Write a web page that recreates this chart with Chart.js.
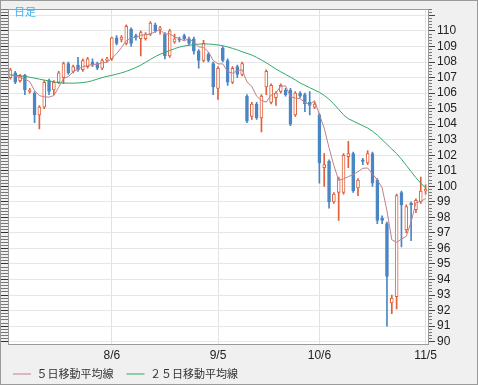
<!DOCTYPE html>
<html>
<head>
<meta charset="utf-8">
<script src="https://cdn.jsdelivr.net/npm/chart.js@4/dist/chart.umd.min.js"></script>
<style>
  html, body { margin: 0; padding: 0; background: #f0f0f0; }
  #wrap { width: 478px; height: 385px; }
</style>
</head>
<body>
<div id="wrap"><canvas id="chart" width="478" height="385"></canvas></div>
<script>
const dates = [
  "7/8","7/9","7/10","7/11","7/14","7/15","7/16","7/17","7/18","7/21",
  "7/22","7/23","7/24","7/25","7/28","7/29","7/30","7/31","8/1","8/4",
  "8/5","8/6","8/7","8/8","8/11","8/12","8/13","8/14","8/15","8/18",
  "8/19","8/20","8/21","8/22","8/25","8/26","8/27","8/28","8/29","9/1",
  "9/2","9/3","9/4","9/5","9/8","9/9","9/10","9/11","9/12","9/15",
  "9/16","9/17","9/18","9/19","9/22","9/23","9/24","9/25","9/26","9/29",
  "9/30","10/1","10/2","10/3","10/6","10/7","10/8","10/9","10/10","10/13",
  "10/14","10/15","10/16","10/17","10/20","10/21","10/22","10/23","10/24","10/27",
  "10/28","10/29","10/30","10/31","11/3","11/4","11/5"
];
const tickDates = ["8/6", "9/5", "10/6", "11/5"];

const opens = [
  107.0,107.3,106.8,107.15,106.1,106.0,104.6,105.1,106.8,106.2,
  106.7,107.0,107.9,107.4,107.8,107.5,107.7,108.0,107.9,107.6,
  108.1,108.2,109.55,109.45,109.2,110.1,109.7,109.5,109.5,109.8,
  110.4,110.1,109.8,108.4,109.3,109.5,109.7,109.5,109.5,108.7,
  108.1,108.5,107.9,106.3,108.9,108.1,106.7,107.7,107.2,105.8,
  104.5,105.3,104.4,106.4,105.4,105.7,106.1,106.2,106.2,104.6,
  106.0,105.9,105.4,105.1,104.6,101.2,101.6,99.0,99.6,99.6,
  101.9,102.1,99.9,101.7,101.5,102.1,100.4,97.95,97.6,92.5,
  92.9,99.6,97.2,98.9,98.5,99.0,99.7
];
const highs = [
  107.6,107.4,107.2,107.2,106.3,106.1,105.2,106.8,106.9,106.8,
  107.4,108.0,108.0,107.8,108.3,108.2,108.3,108.2,108.0,108.2,
  108.3,109.6,109.7,109.7,110.4,110.2,109.8,110.0,109.9,110.6,
  110.5,110.3,109.9,110.1,109.8,109.6,109.8,109.6,109.6,108.8,
  109.4,108.6,108.0,107.7,109.0,108.2,107.7,107.8,108.0,105.9,
  105.4,105.4,105.9,107.5,106.6,106.1,106.6,106.3,106.3,106.1,
  106.1,106.0,106.1,105.4,104.7,102.1,101.7,99.6,100.6,102.1,
  102.9,102.2,100.5,101.8,102.3,102.2,100.5,98.1,97.7,93.0,
  99.5,99.7,98.8,99.0,99.2,100.6,100.1
];
const lows = [
  106.9,106.6,106.7,105.9,106.0,104.1,103.7,105.0,105.9,105.9,
  106.6,106.6,107.2,107.3,107.4,107.4,107.6,107.7,107.5,107.5,
  108.0,108.1,109.1,109.3,109.1,109.0,109.4,108.4,109.4,109.7,
  109.9,109.8,108.2,108.3,109.2,109.3,109.4,109.1,108.5,107.6,
  108.0,108.0,105.9,105.6,108.0,106.5,106.6,107.0,107.1,104.1,
  104.3,104.3,103.5,105.9,105.3,105.2,106.0,105.8,103.9,104.5,
  105.7,104.8,104.6,105.0,100.2,100.0,98.6,98.9,97.8,99.5,
  101.2,99.6,99.4,101.4,101.4,100.0,97.6,97.6,91.0,91.8,
  92.1,96.1,97.0,96.5,98.3,98.9,99.5
];
const closes = [
  107.5,106.7,107.1,106.2,106.2,104.6,105.1,106.7,106.1,106.7,
  107.3,107.9,107.3,107.7,107.5,108.1,108.2,107.8,107.6,108.1,
  108.2,109.55,109.2,109.6,110.3,109.2,109.6,109.9,109.8,110.5,
  110.0,110.2,108.4,110.0,109.5,109.4,109.5,109.2,108.7,108.1,
  109.2,108.1,106.4,107.6,108.1,106.7,107.6,107.2,107.9,104.2,
  105.3,104.4,105.8,107.4,106.5,106.0,106.5,105.9,104.0,106.0,
  105.8,105.3,105.2,105.3,101.5,101.4,99.0,99.5,100.5,102.0,
  102.1,99.7,100.4,101.6,102.1,100.2,97.8,97.8,94.2,92.8,
  99.4,98.8,98.7,98.8,99.1,99.7,99.8
];
const ma5 = [
  107.2,107.1,107.0,106.9,106.74,106.16,105.84,105.76,105.74,105.84,
  106.38,106.94,107.06,107.38,107.54,107.70,107.76,107.86,107.84,107.96,
  107.98,108.25,108.53,108.93,109.37,109.57,109.58,109.72,109.76,109.80,
  109.96,110.08,109.78,109.82,109.62,109.50,109.36,109.52,109.26,108.98,
  108.94,108.66,108.10,107.88,107.88,107.38,107.28,107.44,107.50,106.72,
  106.44,105.80,105.52,105.42,105.88,106.02,106.44,106.46,105.78,105.68,
  105.64,105.40,105.26,105.52,104.62,103.74,102.48,101.34,100.38,100.48,
  100.62,100.76,100.94,101.16,101.18,100.80,100.42,99.90,98.42,96.56,
  96.40,96.60,96.78,97.70,98.96,99.02,99.22
];
const ma25 = [
  107.15,107.15,107.12,107.08,107.02,106.96,106.9,106.84,106.78,106.72,
  106.67,106.65,106.64,106.64,106.65,106.68,106.72,106.8,106.9,107.0,
  107.08,107.14,107.22,107.3,107.4,107.52,107.65,107.8,107.98,108.17,
  108.35,108.5,108.62,108.74,108.86,108.96,109.03,109.08,109.12,109.15,
  109.17,109.16,109.13,109.1,109.05,108.97,108.88,108.78,108.66,108.56,
  108.45,108.3,108.13,107.95,107.75,107.55,107.37,107.2,107.03,106.85,
  106.65,106.5,106.35,106.2,106.05,105.85,105.6,105.3,104.95,104.6,
  104.35,104.2,104.05,103.9,103.75,103.55,103.3,103.0,102.7,102.4,
  102.1,101.75,101.35,100.95,100.55,100.2,99.9
];

const upColor = "#e0603a";
const downColor = "#4a86c5";
const yMin = 89.85;
const yMax = 111.4;

const isUp = opens.map((o, i) => closes[i] >= o);
const bodies = opens.map((o, i) => [Math.min(o, closes[i]), Math.max(o, closes[i])]);
const wicks = lows.map((l, i) => [l, highs[i]]);

const framePlugin = {
  id: "frame",
  beforeDraw(chart) {
    const { ctx, chartArea: a, width, height } = chart;
    ctx.save();
    ctx.fillStyle = "#f0f0f0";
    ctx.fillRect(0, 0, width, height);
    ctx.fillStyle = "#ffffff";
    ctx.fillRect(a.left, a.top, a.right - a.left, a.bottom - a.top);
    ctx.restore();
  },
  afterDraw(chart) {
    const { ctx, chartArea: a, width, height } = chart;
    ctx.save();
    ctx.strokeStyle = "#9a9a9a";
    ctx.lineWidth = 1;
    ctx.strokeRect(Math.round(a.left) + 0.5, Math.round(a.top) + 0.5,
      Math.round(a.right - a.left), Math.round(a.bottom - a.top));
    ctx.strokeRect(0.5, 0.5, width - 1, height - 1);
    ctx.fillStyle = "#45b3f0";
    ctx.font = "11px 'Noto Sans CJK JP'";
    ctx.textBaseline = "middle";
    ctx.fillText("日足", 14, 12);
    ctx.restore();
  }
};

const tickFont = { family: "'Liberation Sans', Arial, sans-serif", size: 12 };

new Chart(document.getElementById("chart"), {
  type: "bar",
  data: {
    labels: dates,
    datasets: [
      {
        type: "line",
        label: "５日移動平均線",
        data: ma5,
        borderColor: "#c27f8a",
        borderWidth: 1,
        pointRadius: 0,
        pointStyle: "line",
        tension: 0,
        yAxisID: "y",
        order: 0
      },
      {
        type: "line",
        label: "２５日移動平均線",
        data: ma25,
        borderColor: "#33a86b",
        borderWidth: 1,
        pointRadius: 0,
        pointStyle: "line",
        tension: 0,
        yAxisID: "y",
        order: 0
      },
      {
        data: bodies,
        backgroundColor: isUp.map(u => u ? "#ffffff" : downColor),
        borderColor: isUp.map(u => u ? upColor : downColor),
        borderWidth: 1,
        borderSkipped: false,
        barThickness: 3,
        grouped: false,
        yAxisID: "y",
        order: 1
      },
      {
        data: wicks,
        backgroundColor: isUp.map(u => u ? upColor : downColor),
        borderWidth: 0,
        barThickness: 1,
        grouped: false,
        yAxisID: "y",
        order: 2
      }
    ]
  },
  options: {
    responsive: false,
    animation: false,
    layout: { padding: { top: 3, left: 0, right: 0, bottom: 0 } },
    plugins: {
      tooltip: { enabled: false },
      legend: {
        position: "bottom",
        align: "start",
        maxHeight: 29.5,
        labels: {
          filter: item => !!item.text,
          usePointStyle: true,
          pointStyleWidth: 18,
          boxHeight: 11,
          padding: 13,
          color: "#333",
          font: { family: "'Noto Sans CJK JP'", size: 11 }
        }
      }
    },
    scales: {
      x: {
        type: "category",
        offset: true,
        grid: {
          offset: false,
          drawTicks: false,
          color: ctx => tickDates.includes(dates[ctx.index]) ? "#e2e2e2" : "transparent"
        },
        border: { display: false },
        ticks: {
          autoSkip: false,
          maxRotation: 0,
          mirror: true,
          padding: -19,
          color: "#222",
          font: tickFont,
          callback: (v, i) => tickDates.includes(dates[i]) ? dates[i] : ""
        },
        afterFit: s => { s.height = 11.5; }
      },
      yl: {
        position: "left",
        min: yMin,
        max: yMax,
        ticks: { display: false, stepSize: 0.2, includeBounds: false, autoSkip: false },
        grid: {
          drawOnChartArea: false,
          tickLength: 7,
          tickColor: ctx => Math.abs(ctx.tick.value - Math.round(ctx.tick.value)) < 0.01 ? "#333" : "#777"
        },
        border: { display: false },
        afterFit: s => { s.width = 8; }
      },
      ym: {
        position: "right",
        weight: 0,
        min: yMin,
        max: yMax,
        ticks: { display: false, stepSize: 0.2, includeBounds: false, autoSkip: false },
        grid: { drawOnChartArea: false, tickLength: 4, tickColor: "#777" },
        border: { display: false },
        afterFit: s => { s.width = 0; }
      },
      y: {
        position: "right",
        weight: 1,
        min: yMin,
        max: yMax,
        ticks: {
          stepSize: 1,
          includeBounds: false,
          autoSkip: false,
          padding: 2,
          color: "#222",
          font: tickFont,
          callback: v => (v >= 90 && v <= 110) ? v : ""
        },
        grid: { color: "#e6e6e6", tickLength: 7, tickColor: "#444" },
        border: { display: true, color: "#9a9a9a" },
        afterFit: s => { s.width = 50; }
      }
    }
  },
  plugins: [framePlugin]
});
</script>
</body>
</html>
